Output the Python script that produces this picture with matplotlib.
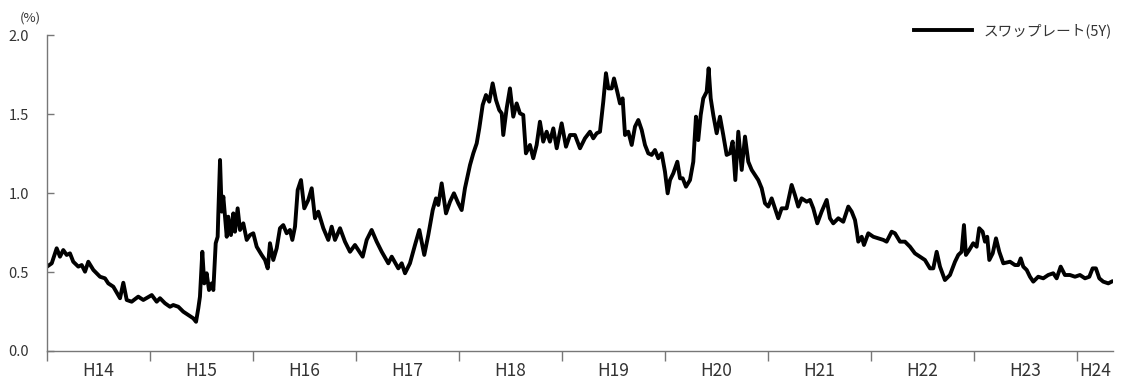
import matplotlib
matplotlib.use("Agg")
import matplotlib.pyplot as plt
import numpy as np

plt.rcParams['font.family'] = ['Noto Sans CJK JP', 'DejaVu Sans']

# Time axis: years elapsed since the start of fiscal H14 (April 2002)
years_since_h14 = [
    0.000, 0.046, 0.094, 0.126, 0.158, 0.191, 0.223, 0.255, 0.304, 0.337,
    0.369, 0.401, 0.450, 0.515, 0.563, 0.595, 0.644, 0.709, 0.741, 0.774,
    0.822, 0.886, 0.935, 1.017, 1.065, 1.097, 1.146, 1.194, 1.226, 1.275,
    1.323, 1.372, 1.420, 1.447, 1.469, 1.485, 1.508, 1.527, 1.550, 1.573,
    1.599, 1.615, 1.638, 1.657, 1.663, 1.680, 1.696, 1.712, 1.745, 1.760,
    1.786, 1.809, 1.825, 1.851, 1.874, 1.906, 1.939, 1.971, 2.003, 2.036,
    2.084, 2.117, 2.143, 2.165, 2.197, 2.230, 2.262, 2.294, 2.327, 2.359,
    2.382, 2.408, 2.434, 2.466, 2.498, 2.537,
    2.570, 2.602, 2.634, 2.683, 2.731, 2.764, 2.796, 2.845, 2.893, 2.942,
    2.990, 3.065, 3.104, 3.152, 3.201, 3.250, 3.314, 3.347, 3.411, 3.444,
    3.476, 3.524, 3.573, 3.615, 3.663, 3.702, 3.745, 3.777, 3.799, 3.832,
    3.874, 3.913, 3.951, 3.993, 4.026, 4.058, 4.107, 4.139, 4.172, 4.197,
    4.230, 4.262, 4.294, 4.327, 4.359, 4.391, 4.415, 4.430, 4.463, 4.495,
    4.527, 4.560, 4.592, 4.624, 4.650, 4.689, 4.721, 4.754, 4.786, 4.818,
    4.851, 4.883, 4.916, 4.949, 4.997, 5.039, 5.078, 5.126, 5.175,
    5.223, 5.272, 5.304, 5.337, 5.369, 5.401, 5.427, 5.450, 5.483, 5.505,
    5.537, 5.563, 5.589, 5.612, 5.644, 5.677, 5.709, 5.741, 5.774, 5.806,
    5.838, 5.871, 5.903, 5.935, 5.968, 6.000, 6.026, 6.049, 6.081, 6.120,
    6.146, 6.172, 6.204, 6.243, 6.275, 6.301, 6.323, 6.347, 6.372, 6.405,
    6.424, 6.444, 6.469, 6.502, 6.534, 6.566, 6.599, 6.631, 6.657, 6.683,
    6.712, 6.745, 6.777, 6.809, 6.842, 6.874, 6.906, 6.939, 6.971, 7.003,
    7.036, 7.068, 7.100, 7.133, 7.181, 7.230, 7.262, 7.294, 7.327, 7.376,
    7.408, 7.440, 7.479, 7.521, 7.570, 7.602, 7.634, 7.683, 7.731, 7.780,
    7.813, 7.845, 7.861, 7.877, 7.910, 7.932, 7.974, 8.023, 8.071, 8.120,
    8.152, 8.201, 8.233, 8.282, 8.330, 8.379, 8.427, 8.476, 8.524, 8.573,
    8.605, 8.638, 8.670, 8.718, 8.767, 8.816, 8.848, 8.880, 8.903, 8.922,
    8.954, 8.993, 9.026, 9.051, 9.084, 9.107, 9.129, 9.149, 9.182, 9.214,
    9.246, 9.285, 9.350, 9.398, 9.430, 9.454, 9.479, 9.512, 9.544, 9.576,
    9.624, 9.673, 9.721, 9.770, 9.803, 9.842, 9.883, 9.932, 9.981, 10.029,
    10.078, 10.120, 10.152, 10.184, 10.217, 10.255, 10.304, 10.337,
]

# 5-year swap rate (%)
swap_rate_5y = [
    0.534, 0.555, 0.650, 0.597, 0.639, 0.608, 0.618, 0.565, 0.534, 0.544,
    0.502, 0.565, 0.513, 0.470, 0.460, 0.428, 0.407, 0.334, 0.432, 0.323,
    0.312, 0.344, 0.323, 0.354, 0.312, 0.334, 0.302, 0.280, 0.291, 0.280,
    0.249, 0.228, 0.207, 0.185, 0.270, 0.344, 0.628, 0.428, 0.492, 0.386,
    0.428, 0.386, 0.682, 0.723, 0.861, 1.209, 0.882, 0.977, 0.723, 0.850,
    0.734, 0.871, 0.755, 0.903, 0.766, 0.808, 0.703, 0.734, 0.745, 0.660,
    0.608, 0.576, 0.523, 0.682, 0.576, 0.650, 0.777, 0.797, 0.745, 0.766,
    0.703, 0.787, 1.019, 1.082, 0.903, 0.956,
    1.030, 0.840, 0.882, 0.777, 0.703, 0.787, 0.703, 0.777, 0.692, 0.628,
    0.671, 0.597, 0.703, 0.766, 0.692, 0.628, 0.555, 0.597, 0.523, 0.555,
    0.492, 0.555, 0.671, 0.766, 0.608, 0.734, 0.892, 0.966, 0.924, 1.061,
    0.871, 0.945, 0.998, 0.935, 0.892, 1.030, 1.177, 1.251, 1.314, 1.409,
    1.557, 1.620, 1.578, 1.694, 1.589, 1.525, 1.504, 1.367, 1.536, 1.662,
    1.483, 1.567, 1.504, 1.494, 1.251, 1.304, 1.220, 1.304, 1.451, 1.325,
    1.388, 1.325, 1.409, 1.283, 1.441, 1.293, 1.367, 1.367, 1.283,
    1.346, 1.388, 1.346, 1.378, 1.388, 1.578, 1.758, 1.662, 1.662, 1.725,
    1.641, 1.567, 1.599, 1.367, 1.388, 1.304, 1.420, 1.462, 1.399, 1.304,
    1.251, 1.241, 1.272, 1.220, 1.251, 1.135, 0.998, 1.082, 1.125, 1.198,
    1.093, 1.093, 1.040, 1.082, 1.198, 1.483, 1.335, 1.494, 1.599, 1.641,
    1.789, 1.599, 1.494, 1.378, 1.483, 1.367, 1.241, 1.251, 1.325, 1.082,
    1.388, 1.146, 1.357, 1.198, 1.146, 1.114, 1.082, 1.030, 0.935, 0.914,
    0.966, 0.903, 0.840, 0.903, 0.903, 1.051, 0.987, 0.914, 0.966, 0.945,
    0.956, 0.903, 0.808, 0.882, 0.956, 0.840, 0.808, 0.840, 0.818, 0.914,
    0.882, 0.829, 0.766, 0.692, 0.723, 0.671, 0.745, 0.723, 0.713, 0.703,
    0.692, 0.755, 0.745, 0.692, 0.692, 0.660, 0.618, 0.597, 0.576, 0.523,
    0.523, 0.628, 0.534, 0.449, 0.481, 0.565, 0.608, 0.628, 0.797, 0.608,
    0.639, 0.682, 0.660, 0.777, 0.755, 0.692, 0.723, 0.576, 0.618, 0.713,
    0.628, 0.555, 0.565, 0.544, 0.544, 0.586, 0.534, 0.513, 0.470, 0.439,
    0.470, 0.460, 0.481, 0.492, 0.460, 0.534, 0.481, 0.481, 0.470, 0.481,
    0.460, 0.470, 0.523, 0.523, 0.460, 0.439, 0.428, 0.439,
]

fiscal_year_labels = ["H14", "H15", "H16", "H17", "H18", "H19", "H20",
                      "H21", "H22", "H23", "H24"]
y_ticks = [0.0, 0.5, 1.0, 1.5, 2.0]
series_name = "スワップレート(5Y)"

W, H = 1124, 378
fig = plt.figure(figsize=(W / 100, H / 100), dpi=100)
ax = fig.add_axes([47 / W, 1 - 351 / H, (1113 - 47) / W, (351 - 35) / H])

ax.plot(years_since_h14, swap_rate_5y, color="black", lw=2.8,
        solid_joinstyle="round", label=series_name)

x_end = 10.35
ax.set_xlim(0, x_end)
ax.set_ylim(0, 2.0)

axis_color = "#777777"
text_color = "#333333"
for s in ["top", "right"]:
    ax.spines[s].set_visible(False)
for s in ["left", "bottom"]:
    ax.spines[s].set_color(axis_color)
    ax.spines[s].set_linewidth(1.0)

# x: boundaries as major ticks, labels at the centre of each fiscal year
bounds = list(range(len(fiscal_year_labels)))
ax.set_xticks(bounds)
ax.set_xticklabels([])
centres = [b + 0.5 for b in bounds[:-1]] + [(bounds[-1] + x_end) / 2]
ax.set_xticks(centres, minor=True)
ax.set_xticklabels(fiscal_year_labels, minor=True)
ax.tick_params(axis="x", which="major", direction="out", length=7.5,
               width=1.0, color=axis_color)
ax.tick_params(axis="x", which="minor", length=0, pad=8,
               labelsize=12.5, labelcolor=text_color)

ax.set_yticks(y_ticks)
ax.set_yticklabels([f"{v:.1f}" for v in y_ticks])
ax.tick_params(axis="y", direction="in", length=5, width=1.0,
               color=axis_color, pad=13, labelsize=10.5,
               labelcolor=text_color)

fig.text(30 / W, 1 - 18 / H, "(%)", ha="center", va="center",
         fontsize=9.5, color=text_color)

leg = ax.legend(loc="center right", bbox_to_anchor=(1112 / W, 1 - 31 / H),
                bbox_transform=fig.transFigure, frameon=False,
                handlelength=4.0, handletextpad=0.8, borderpad=0,
                borderaxespad=0, fontsize=10.5)
for t in leg.get_texts():
    t.set_color(text_color)

fig.savefig("out.png", dpi=100)
